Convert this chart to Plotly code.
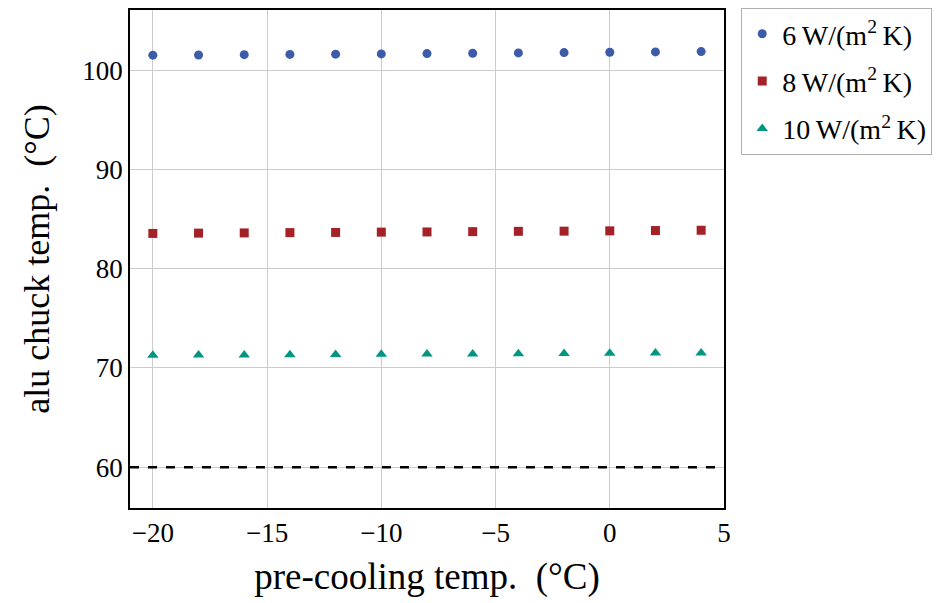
import plotly.graph_objects as go

x_vals = [-20, -18, -16, -14, -12, -10, -8, -6, -4, -2, 0, 2, 4]
h6 = [101.5, 101.52, 101.55, 101.58, 101.6, 101.63, 101.66, 101.7, 101.73, 101.76, 101.8, 101.83, 101.86]
h8 = [83.55, 83.58, 83.6, 83.63, 83.65, 83.68, 83.7, 83.73, 83.76, 83.78, 83.81, 83.84, 83.87]
h10 = [71.28, 71.3, 71.32, 71.34, 71.36, 71.38, 71.4, 71.42, 71.44, 71.46, 71.48, 71.5, 71.52]
labels = ["6\u2009W/(m<sup>2</sup>\u2009K)", "8\u2009W/(m<sup>2</sup>\u2009K)", "10\u2009W/(m<sup>2</sup>\u2009K)"]
limit_y = 60
x_range = [-21, 5]

font = "Liberation Serif"
fig = go.Figure()
fig.add_trace(go.Scatter(x=x_vals, y=h6, mode="markers", name=labels[0], legendgroup="a",
                         marker=dict(symbol="circle", size=9, color="#3c5ba8")))
fig.add_trace(go.Scatter(x=x_vals, y=h8, mode="markers", name=labels[1], legendgroup="b",
                         marker=dict(symbol="square", size=9, color="#a52128")))
fig.add_trace(go.Scatter(x=x_vals, y=h10, mode="markers", name=labels[2], legendgroup="c",
                         marker=dict(symbol="triangle-up", size=10, color="#009682")))
fig.add_trace(go.Scatter(x=x_range, y=[limit_y, limit_y], mode="lines", showlegend=False,
                         line=dict(color="black", width=2.5, dash="dash"), hoverinfo="skip"))

fig.update_layout(
    width=941, height=603,
    margin=dict(l=130, r=217, t=10, b=95, autoexpand=False),
    paper_bgcolor="white", plot_bgcolor="white",
    font=dict(family=font, size=27, color="black"),
    legend=dict(x=1.029, y=1.004, xanchor="left", yanchor="top",
                bordercolor="#b0b0b0", borderwidth=1, font=dict(size=28),
                itemwidth=30, tracegroupgap=8),
    xaxis=dict(range=x_range, tickvals=[-20, -15, -10, -5, 0, 5],
               ticktext=["−20", "−15", "−10", "−5", "0", "5"],
               showgrid=True, gridcolor="#cccccc", gridwidth=1,
               showline=True, linecolor="black", linewidth=1.5, mirror=True,
               ticks="", zeroline=False,
               title=dict(text="pre-cooling temp.  (°C)", font=dict(size=37), standoff=16)),
    yaxis=dict(range=[55.9, 106.05], tickvals=[60, 70, 80, 90, 100],
               showgrid=True, gridcolor="#cccccc", gridwidth=1,
               showline=True, linecolor="black", linewidth=1.5, mirror=True,
               ticks="", zeroline=False,
               title=dict(text="alu chuck temp.  (°C)", font=dict(size=36), standoff=22)),
)
fig.write_html("out.html")
